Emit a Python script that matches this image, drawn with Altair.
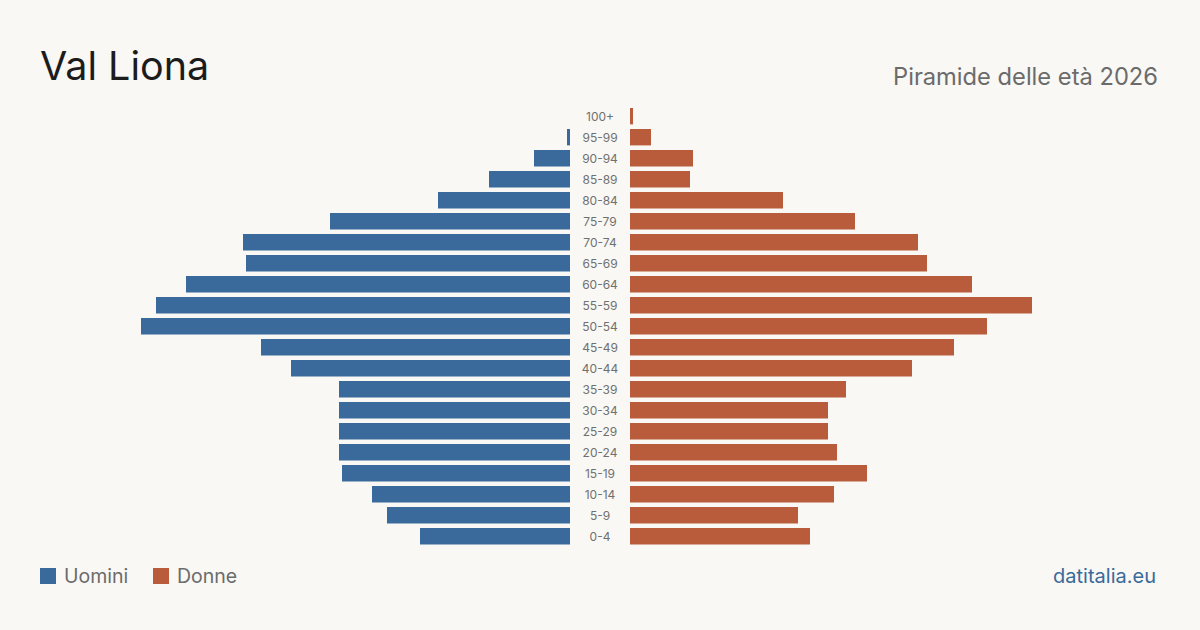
import altair as alt
import pandas as pd

ages = ["100+", "95-99", "90-94", "85-89", "80-84", "75-79", "70-74", "65-69",
        "60-64", "55-59", "50-54", "45-49", "40-44", "35-39", "30-34", "25-29",
        "20-24", "15-19", "10-14", "5-9", "0-4"]
uomini = [0, 1, 12, 27, 44, 80, 109, 108, 128, 138, 143, 103, 93, 77, 77, 77, 77, 76, 66, 61, 50]
donne = [1, 7, 21, 20, 51, 75, 96, 99, 114, 134, 119, 108, 94, 72, 66, 66, 69, 79, 68, 56, 60]

title_text = "Val Liona"
subtitle_text = "Piramide delle età 2026"
legend_labels = ["Uomini", "Donne"]
source_text = "datitalia.eu"

BLUE = "#3a6a9b"
ORANGE = "#b95c3c"
BG = "#f9f8f4"
FONT = "Inter"

df = pd.DataFrame({"age": ages, "m": uomini, "f": donne})
vmax = max(max(uomini), max(donne))

yenc = alt.Y("age:N", sort=ages, axis=None,
             scale=alt.Scale(range=[105.7, 546.8], paddingInner=0.22, paddingOuter=0.11))

base = alt.Chart(df)

left = base.mark_bar(color=BLUE).encode(
    x=alt.X("m:Q", axis=None, scale=alt.Scale(domain=[0, vmax], range=[570, 141])),
    y=yenc,
)
right = base.mark_bar(color=ORANGE).encode(
    x=alt.X("f:Q", axis=None, scale=alt.Scale(domain=[0, vmax], range=[630, 1059])),
    y=yenc,
)
labels = base.mark_text(font=FONT, fontSize=12, color="#707070", align="center",
                        baseline="middle", dy=1).encode(
    x=alt.value(600), y=yenc, text="age:N"
)

def txt(s, x, y, **kw):
    return alt.Chart(pd.DataFrame({"t": [s]})).mark_text(font=FONT, **kw).encode(
        x=alt.value(x), y=alt.value(y), text="t:N")

title = txt(title_text, 40, 80, fontSize=39.5, color="#1c1c1c", align="left", baseline="alphabetic")
subtitle = txt(subtitle_text, 1158, 85, fontSize=23.7, color="#6b6b6b", align="right", baseline="alphabetic")
leg1 = txt(legend_labels[0], 64, 583, fontSize=19.5, color="#6b6b6b", align="left", baseline="alphabetic")
leg2 = txt(legend_labels[1], 177, 583, fontSize=19.5, color="#6b6b6b", align="left", baseline="alphabetic")
src = txt(source_text, 1156, 583, fontSize=20, color=BLUE, align="right", baseline="alphabetic")

sq_df = pd.DataFrame({"k": [0]})
sq1 = alt.Chart(sq_df).mark_rect(color=BLUE).encode(
    x=alt.value(40), x2=alt.value(56), y=alt.value(568), y2=alt.value(584))
sq2 = alt.Chart(sq_df).mark_rect(color=ORANGE).encode(
    x=alt.value(153), x2=alt.value(169), y=alt.value(568), y2=alt.value(584))

chart = alt.layer(left, right, labels, title, subtitle, leg1, leg2, src, sq1, sq2).resolve_scale(
    x="independent"
).properties(
    width=1200, height=630, padding=0, autosize=alt.AutoSizeParams(type="none"),
    background=BG
).configure_view(stroke=None)

chart.save("out.html", embed_options={"renderer": "svg", "actions": False})
